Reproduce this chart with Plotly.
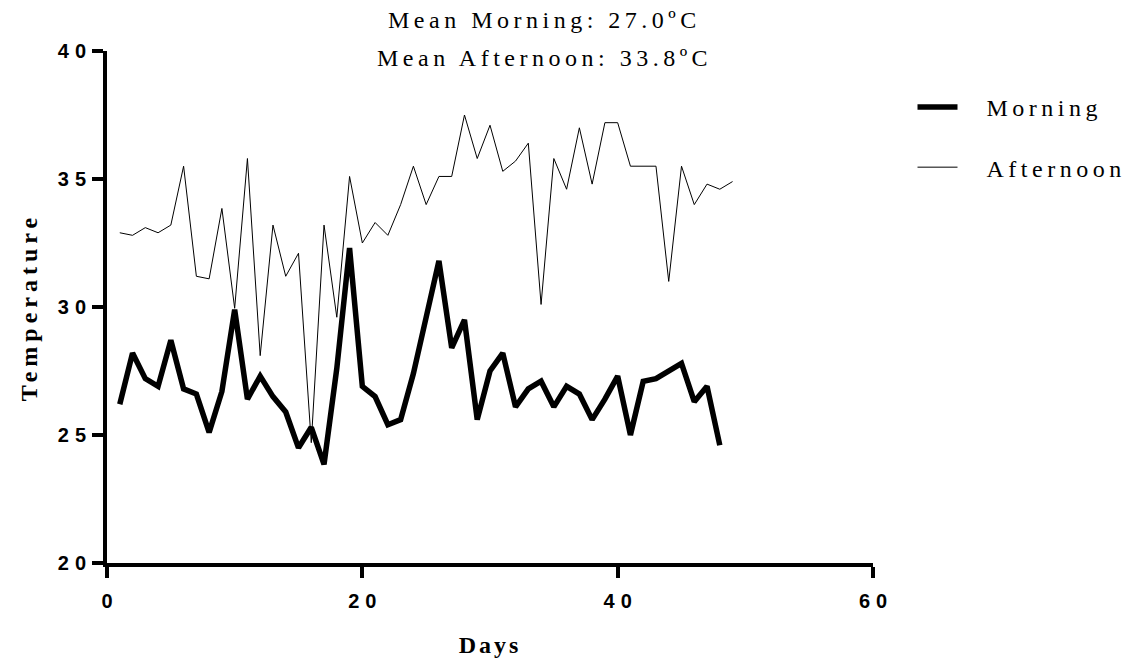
import plotly.graph_objects as go

days_morning = list(range(1, 49))
morning = [26.2, 28.2, 27.2, 26.9, 28.7, 26.8, 26.6, 25.1, 26.7, 29.9,
           26.4, 27.3, 26.5, 25.9, 24.5, 25.3, 23.85, 27.6, 32.3, 26.9,
           26.5, 25.4, 25.6, 27.4, 29.6, 31.8, 28.4, 29.5, 25.6, 27.5,
           28.2, 26.1, 26.8, 27.1, 26.1, 26.9, 26.6, 25.6, 26.4, 27.3,
           25.0, 27.1, 27.2, 27.5, 27.8, 26.3, 26.9, 24.6]

days_afternoon = list(range(1, 50))
afternoon = [32.9, 32.8, 33.1, 32.9, 33.2, 35.5, 31.2, 31.1, 33.85, 29.95,
             35.8, 28.1, 33.2, 31.2, 32.1, 24.7, 33.2, 29.6, 35.1, 32.5,
             33.3, 32.8, 34.0, 35.5, 34.0, 35.1, 35.1, 37.5, 35.8, 37.1,
             35.3, 35.7, 36.4, 30.1, 35.8, 34.6, 37.0, 34.8, 37.2, 37.2,
             35.5, 35.5, 35.5, 31.0, 35.5, 34.0, 34.8, 34.6, 34.9]

x_ticks = [0, 20, 40, 60]
y_ticks = [20, 25, 30, 35, 40]

title_lines = ["Mean Morning: 27.0ºC", "Mean Afternoon: 33.8ºC"]

SERIF = "Liberation Serif, Times New Roman, serif"
SANS = "Liberation Sans, Arial, sans-serif"


def spaced(t, px):
    return f'<span style="letter-spacing:{px}px">{t}</span>'


def tick_label(v, px):
    s = str(v)
    if len(s) < 2:
        return s
    return spaced(s[:-1], px) + s[-1]


def legend_name(t):
    # em space keeps a gap between the legend line and its label
    return "\u2003" + spaced(t, 4.5)


fig = go.Figure()
fig.add_trace(go.Scatter(x=days_morning, y=morning, mode="lines",
                         name=legend_name("Morning"), legendgroup="m",
                         line=dict(color="black", width=5.5)))
fig.add_trace(go.Scatter(x=days_afternoon, y=afternoon, mode="lines",
                         name=legend_name("Afternoon"), legendgroup="a",
                         line=dict(color="black", width=1)))

axis_common = dict(showline=True, linecolor="black", linewidth=4,
                   ticks="outside", ticklen=11, tickwidth=4, tickcolor="black",
                   showgrid=False, zeroline=False, automargin=False,
                   tickfont=dict(family=SANS, size=20, color="black", weight="bold"))

fig.update_xaxes(range=[0, 60], tickvals=x_ticks,
                 ticktext=[tick_label(v, 6) for v in x_ticks],
                 title=dict(text=spaced("Days", 3),
                            font=dict(family=SERIF, size=24, color="black", weight="bold"),
                            standoff=26),
                 ticklabelstandoff=6,
                 **axis_common)
fig.update_yaxes(range=[20, 40], tickvals=y_ticks,
                 ticktext=[tick_label(v, 6) for v in y_ticks],
                 title=dict(text=spaced("Temperature", 5),
                            font=dict(family=SERIF, size=24, color="black", weight="bold"),
                            standoff=14),
                 ticklabelstandoff=2,
                 **axis_common)

for i, t in enumerate(title_lines):
    fig.add_annotation(text=spaced(t, 4.5), xref="paper", yref="paper",
                       x=0.571, y=1.0, yshift=[31, -7][i],
                       xanchor="center", yanchor="middle", showarrow=False,
                       font=dict(family=SERIF, size=24, color="black"))

# the page body adds an 8px offset, so the figure is 8px smaller than the window
fig.update_layout(
    width=1125, height=657,
    margin=dict(l=99, r=260, t=43, b=102),
    plot_bgcolor="white", paper_bgcolor="white",
    showlegend=True,
    legend=dict(x=0.804, xref="container", xanchor="left",
                y=0.883, yref="container", yanchor="top",
                traceorder="grouped", tracegroupgap=26, itemwidth=40,
                font=dict(family=SERIF, size=24, color="black"),
                bgcolor="rgba(0,0,0,0)"),
)

fig.write_html("out.html")
